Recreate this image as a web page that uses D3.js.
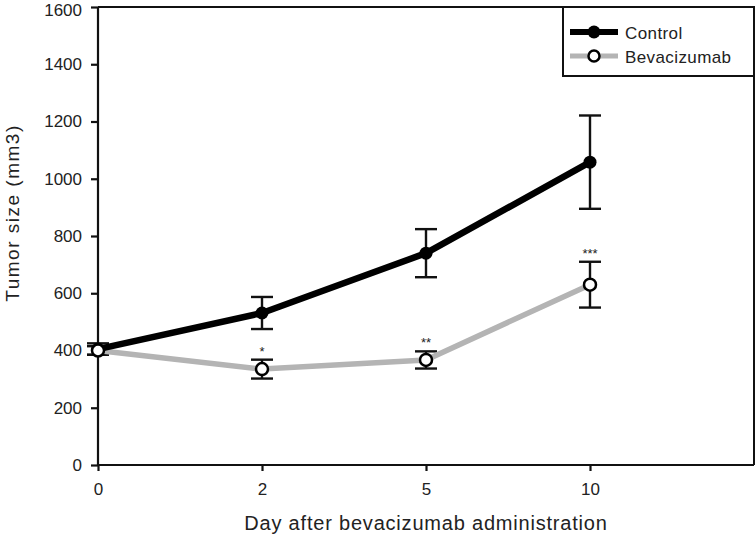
<!DOCTYPE html>
<html><head><meta charset="utf-8">
<script src="https://cdn.jsdelivr.net/npm/d3@7"></script>
<style>body{margin:0;background:#fff}svg{display:block}text{font-family:"Liberation Sans",Arial,sans-serif;fill:#222}</style>
</head><body><svg id="c" width="756" height="542"></svg>
<script>
const days = ["0","2","5","10"];
const controlMean = [405, 531, 740, 1058];
const controlErr = [20, 56, 84, 163];
const bevaMean = [400, 335, 367, 630];
const bevaErr = [15, 33, 30, 80];
const bevaSig = ["", "*", "**", "***"];
const yTicks = [0,200,400,600,800,1000,1200,1400,1600];
const seriesNames = ["Control", "Bevacizumab"];

const svg = d3.select("#c");
const L=98, R=754, T=7, B=465;
const x = d3.scaleLinear().domain([0,4]).range([L,R]);
const y = d3.scaleLinear().domain([0,1600]).range([B,T]);

svg.append("path").attr("d",`M${L},${T}H${R}V${B}`).attr("fill","none").attr("stroke","#111").attr("stroke-width",2);

const yAxis = svg.append("g").attr("transform",`translate(${L},0)`)
  .call(d3.axisLeft(y).tickValues(yTicks).tickFormat(d3.format("d")).tickSize(7).tickPadding(9));
const xAxis = svg.append("g").attr("transform",`translate(0,${B})`)
  .call(d3.axisBottom(x).tickValues(d3.range(days.length)).tickFormat(i=>days[i]).tickSize(6).tickPadding(12));
[yAxis,xAxis].forEach(g=>{
  g.selectAll("path,line").attr("stroke","#111").attr("stroke-width",2.2);
  g.selectAll("text").attr("font-size",17).attr("fill","#222");
  g.select(".domain").attr("d", g===yAxis? `M0,${T}V${B}` : `M${L},0H${R}`);
});
// keep the top label inside the picture
yAxis.selectAll(".tick text").filter(d=>d===1600).attr("dy","0.5em");

const line = d3.line().x((d,i)=>x(i)).y(d=>y(d));

function errbars(means, errs){
  const g = svg.append("g").attr("stroke","#111").attr("stroke-width",2.4);
  means.forEach((m,i)=>{
    const cx=x(i), t=y(m+errs[i]), b=y(m-errs[i]);
    g.append("line").attr("x1",cx).attr("x2",cx).attr("y1",t).attr("y2",b);
    g.append("line").attr("x1",cx-11).attr("x2",cx+11).attr("y1",t).attr("y2",t);
    g.append("line").attr("x1",cx-11).attr("x2",cx+11).attr("y1",b).attr("y2",b);
  });
}
errbars(controlMean, controlErr);
errbars(bevaMean, bevaErr);

svg.append("path").datum(bevaMean).attr("d",line).attr("fill","none").attr("stroke","#b4b4b4").attr("stroke-width",5.5).attr("stroke-linejoin","round");
svg.append("path").datum(controlMean).attr("d",line).attr("fill","none").attr("stroke","#000").attr("stroke-width",6.5).attr("stroke-linejoin","round");

svg.selectAll(".cdot").data(controlMean).join("circle").attr("cx",(d,i)=>x(i)).attr("cy",d=>y(d)).attr("r",6.5).attr("fill","#000");
svg.selectAll(".bdot").data(bevaMean).join("circle").attr("cx",(d,i)=>x(i)).attr("cy",d=>y(d)).attr("r",6).attr("fill","#fff").attr("stroke","#000").attr("stroke-width",2.5);

svg.selectAll(".sig").data(bevaSig).join("text")
  .attr("x",(d,i)=>x(i)).attr("y",(d,i)=>y(bevaMean[i]+bevaErr[i])-4)
  .attr("text-anchor","middle").attr("font-size",13).text(d=>d);

svg.append("text").attr("transform",`translate(19,213) rotate(-90)`).attr("text-anchor","middle")
  .attr("font-size",19).attr("letter-spacing",1.5).text("Tumor size (mm3)");
svg.append("text").attr("x",426).attr("y",530).attr("text-anchor","middle")
  .attr("font-size",20).attr("letter-spacing",0.8).text("Day after bevacizumab administration");

const lg = svg.append("g");
lg.append("rect").attr("x",563).attr("y",T).attr("width",R-563).attr("height",69).attr("fill","#fff").attr("stroke","#111").attr("stroke-width",2);
const ly=[32,56];
lg.append("line").attr("x1",570).attr("x2",618).attr("y1",ly[0]).attr("y2",ly[0]).attr("stroke","#000").attr("stroke-width",6);
lg.append("circle").attr("cx",594).attr("cy",ly[0]).attr("r",6.5).attr("fill","#000");
lg.append("line").attr("x1",570).attr("x2",618).attr("y1",ly[1]).attr("y2",ly[1]).attr("stroke","#b4b4b4").attr("stroke-width",5);
lg.append("circle").attr("cx",594).attr("cy",ly[1]).attr("r",5.5).attr("fill","#fff").attr("stroke","#000").attr("stroke-width",2.5);
seriesNames.forEach((n,i)=>lg.append("text").attr("x",625).attr("y",ly[i]+7).attr("font-size",17).attr("letter-spacing",0.4).text(n));
</script></body></html>
